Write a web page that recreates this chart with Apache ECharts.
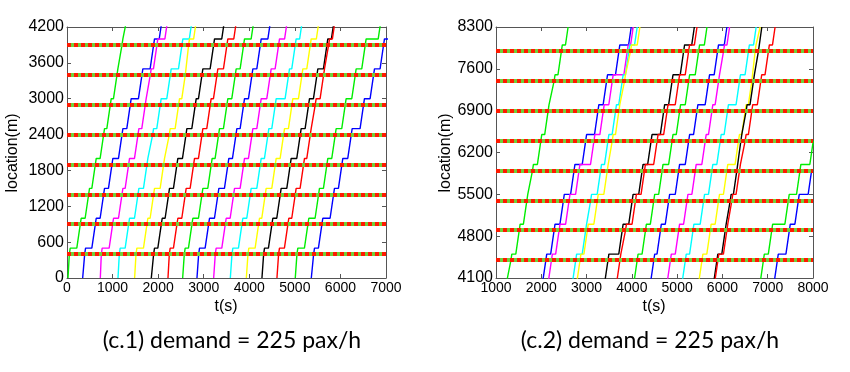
<!DOCTYPE html>
<html>
<head>
<meta charset="utf-8">
<script src="https://cdn.jsdelivr.net/npm/echarts@6/dist/echarts.min.js"></script>
<style>
  html, body { margin: 0; padding: 0; background: #fff; }
  #chart { width: 850px; height: 372px; }
</style>
</head>
<body>
<div id="chart"></div>
<script>
// ---------------- DATA ----------------
// station (stop) locations, m
const stationLocs = [400, 900, 1400, 1900, 2400, 2900, 3400, 3900, 4400, 4900, 5400, 5900, 6400, 6900, 7400, 7900];
// each vehicle: time (s) at 0 m, crossing times at every station above, time at 8300 m
const trainG1 = [22, 51, 292, 475, 622, 804, 951, 1097, 1207, 1330, 1514, 1682, 1807, 1991, 2152, 2284, 2445, 2592];
const trainB1 = [344, 388, 622, 804, 987, 1207, 1389, 1645, 1901, 2101, 2284, 2489, 2724, 2981, 3252, 3443, 3715, 3986];
const trainM1 = [731, 753, 1002, 1207, 1353, 1558, 1718, 1828, 1974, 2225, 2394, 2614, 2834, 3164, 3370, 3568, 3900, 4030];
const trainC1 = [1119, 1148, 1353, 1558, 1755, 1880, 2047, 2267, 2523, 2761, 2981, 3091, 3311, 3473, 3641, 3788, 3935, 4118];
const trainY1 = [1484, 1514, 1755, 1901, 2121, 2245, 2450, 2596, 2669, 2856, 3018, 3238, 3458, 3568, 3715, 3839, 3972, 4177];
const trainK1 = [1850, 1901, 2070, 2230, 2413, 2611, 2816, 2962, 3218, 3473, 3788, 4008, 4228, 4426, 4705, 4889, 5145, 5380];
const trainR1 = [2216, 2245, 2413, 2596, 2779, 2962, 3144, 3291, 3510, 3737, 3861, 4081, 4280, 4559, 4779, 5035, 5255, 5439];
const trainG2 = [2538, 2574, 2742, 2962, 3166, 3327, 3510, 3693, 3876, 4118, 4302, 4485, 4669, 4889, 5057, 5256, 5476, 5659];
const trainB2 = [2852, 2889, 3108, 3313, 3532, 3708, 3876, 4059, 4242, 4485, 4632, 4815, 5035, 5256, 5439, 5696, 5894, 6099];
const trainM2 = [3218, 3254, 3474, 3657, 3876, 4059, 4242, 4461, 4644, 4852, 5035, 5219, 5402, 5622, 5769, 5916, 6026, 6158];
const trainC2 = [3584, 3620, 3839, 4022, 4242, 4410, 4571, 4863, 5009, 5182, 5351, 5586, 5769, 5953, 6114, 6378, 6576, 6745];
const trainY2 = [3935, 3971, 4205, 4351, 4571, 4754, 4936, 5156, 5339, 5549, 5732, 5916, 6099, 6356, 6503, 6650, 6723, 6833];
const trainK2 = [4278, 4315, 4497, 4680, 4900, 5119, 5302, 5485, 5704, 5879, 6063, 6173, 6319, 6408, 6525, 6686, 6796, 6870];
const trainR2 = [4607, 4643, 4848, 5009, 5192, 5339, 5448, 5631, 5741, 5901, 6099, 6209, 6378, 6503, 6650, 6848, 7017, 7163];
const trainG3 = [5009, 5046, 5287, 5521, 5704, 5887, 6106, 6326, 6545, 6906, 7090, 7456, 7713, 8007, null, null, null, null];
const trainB3 = [5361, 5412, 5594, 5850, 6033, 6238, 6508, 6728, 6947, 7214, 7479, 7677, 7970, null, null, null, null, null];
const trainNames = ['G1','B1','M1','C1','Y1','K1','R1','G2','B2','M2','C2','Y2','K2','R2','G3','B3'];
const trains = [trainG1, trainB1, trainM1, trainC1, trainY1, trainK1, trainR1, trainG2, trainB2, trainM2, trainC2, trainY2, trainK2, trainR2, trainG3, trainB3];
const endLoc = 8300;       // m
const dwellOffset = 100;   // dwell happens 100 m past each station line
const cruiseSpeed = 5.2;   // m/s, read from the slope of moving segments
const leftXTicks = [0, 7000, 1000];
const leftYTicks = [0, 4200, 600];
const rightXTicks = [1000, 8000, 1000];
const rightYTicks = [4100, 8300, 700];
const captions = ['(c.1) demand = 225 pax/h', '(c.2) demand = 225 pax/h'];

// ---------------- STYLE ----------------
const palette = ['#00ee00', '#0000ff', '#ff00ff', '#00ffff', '#ffff00', '#000000', '#ff0000'];
const frameColor = '#555';
const labelFont = 'Arial';

function segment(pts, ta, ya, tb, yb, stepLoc) {
  const D = tb - ta;
  const m = Math.min(D, (yb - ya) / cruiseSpeed);
  const t1 = ta + m * (stepLoc - ya) / (yb - ya);
  pts.push([t1, stepLoc]);
  pts.push([t1 + (D - m), stepLoc]);
  pts.push([tb, yb]);
}
function buildPath(arr) {
  const pts = [[arr[0], 0], [arr[1], stationLocs[0]]];
  for (let k = 1; k < stationLocs.length; k++) {
    if (arr[k + 1] == null) return pts;
    segment(pts, arr[k], stationLocs[k - 1], arr[k + 1], stationLocs[k], stationLocs[k - 1] + dwellOffset);
  }
  const last = arr[stationLocs.length + 1];
  if (last != null) {
    const lastSt = stationLocs[stationLocs.length - 1];
    segment(pts, arr[stationLocs.length], lastSt, last, endLoc, lastSt + dwellOffset);
  }
  return pts;
}

const plain = v => String(v);
function xAxisPair(gridIndex, ticks) {
  const base = {
    gridIndex, type: 'value', min: ticks[0], max: ticks[1], interval: ticks[2],
    axisLine: { show: true, onZero: false, lineStyle: { color: frameColor, width: 1 } },
    axisTick: { show: true, inside: true, length: 4, lineStyle: { color: frameColor } },
    splitLine: { show: false }
  };
  return [
    Object.assign({}, base, { position: 'bottom',
      axisLabel: { show: true, margin: 3, color: '#000', fontSize: 14, fontFamily: labelFont, formatter: plain, showMinLabel: true, showMaxLabel: true } }),
    Object.assign({}, base, { position: 'top', axisLabel: { show: false } })
  ];
}
function yAxisPair(gridIndex, ticks) {
  const base = {
    gridIndex, type: 'value', min: ticks[0], max: ticks[1], interval: ticks[2],
    axisLine: { show: true, onZero: false, lineStyle: { color: frameColor, width: 1 } },
    axisTick: { show: true, inside: true, length: 4, lineStyle: { color: frameColor } },
    splitLine: { show: false }
  };
  return [
    Object.assign({}, base, { position: 'left',
      axisLabel: { show: true, margin: 3, color: '#000', fontSize: 16, fontFamily: labelFont, formatter: plain, showMinLabel: true, showMaxLabel: true } }),
    Object.assign({}, base, { position: 'right', axisLabel: { show: false } })
  ];
}

const series = [];
const panels = [
  { xIdx: 0, yIdx: 0, y: leftYTicks },
  { xIdx: 2, yIdx: 2, y: rightYTicks }
];
panels.forEach(p => {
  trains.forEach((tr, i) => {
    series.push({
      name: trainNames[i] + '_' + p.xIdx,
      type: 'line', xAxisIndex: p.xIdx, yAxisIndex: p.yIdx,
      data: buildPath(tr), showSymbol: false, symbol: 'none', clip: true,
      lineStyle: { color: palette[i % palette.length], width: 1.4 },
      silent: true, animation: false, z: 2
    });
  });
  const visible = stationLocs.filter(s => s > p.y[0] && s < p.y[1]);
  [{ color: '#6fd13a', type: 'solid' }, { color: '#ff1a00', type: [4, 3] }].forEach((st, j) => {
    series.push({
      type: 'line', xAxisIndex: p.xIdx, yAxisIndex: p.yIdx, data: [], silent: true, animation: false, z: 5 + j,
      markLine: {
        silent: true, symbol: 'none', animation: false, label: { show: false },
        lineStyle: { color: st.color, type: st.type, width: 4 },
        data: visible.map(s => ({ yAxis: s }))
      }
    });
  });
});

const textStyle = (txt, x, y, size, fam, rot) => ({
  type: 'text', x, y, rotation: rot || 0,
  style: { text: txt, fill: '#000', font: size + 'px ' + fam, textAlign: 'center', textVerticalAlign: 'middle' }
});

const chart = echarts.init(document.getElementById('chart'), null, { renderer: 'canvas' });
chart.setOption({
  animation: false,
  backgroundColor: '#fff',
  grid: [
    { left: 67, top: 27, width: 319, height: 251, containLabel: false },
    { left: 496, top: 27, width: 317, height: 251, containLabel: false }
  ],
  xAxis: [...xAxisPair(0, leftXTicks), ...xAxisPair(1, rightXTicks)],
  yAxis: [...yAxisPair(0, leftYTicks), ...yAxisPair(1, rightYTicks)],
  series,
  graphic: [
    textStyle('location(m)', 13, 153, 16, labelFont, Math.PI / 2),
    textStyle('location(m)', 446, 153, 16, labelFont, Math.PI / 2),
    textStyle('t(s)', 226, 307, 16, labelFont),
    textStyle('t(s)', 654, 307, 16, labelFont),
    textStyle(captions[0], 232, 341, 23, 'Lato, sans-serif'),
    textStyle(captions[1], 650, 341, 23, 'Lato, sans-serif')
  ]
});
</script>
</body>
</html>
